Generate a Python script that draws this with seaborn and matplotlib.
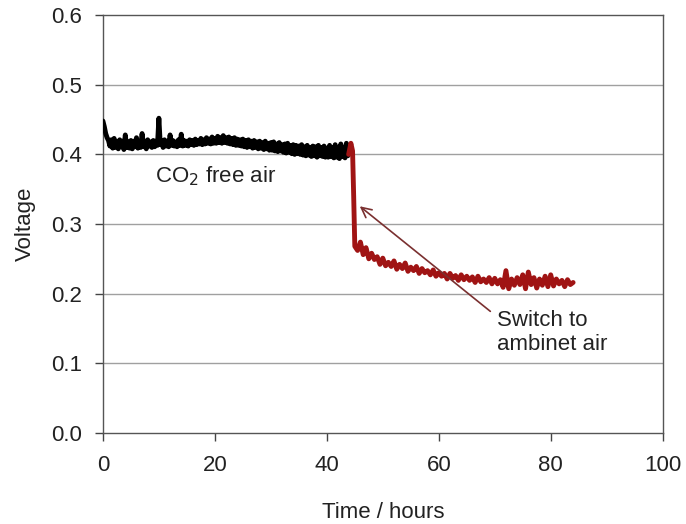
import numpy as np
import pandas as pd
import matplotlib
matplotlib.use("Agg")
import matplotlib.pyplot as plt
import seaborn as sns

# CO2-free air segment (black), sampled every 0.25 h from t = 0 to 44 h
v_free = [
    0.448, 0.440, 0.430, 0.424, 0.420, 0.412, 0.421, 0.409, 0.423, 0.410,
    0.418, 0.408, 0.421, 0.411, 0.419, 0.407, 0.428, 0.410, 0.418, 0.409,
    0.420, 0.408, 0.419, 0.411, 0.424, 0.409, 0.417, 0.410, 0.430, 0.411,
    0.419, 0.408, 0.421, 0.412, 0.418, 0.410, 0.420, 0.411, 0.419, 0.413,
    0.452, 0.414, 0.420, 0.410, 0.421, 0.412, 0.419, 0.411, 0.428, 0.413,
    0.420, 0.412, 0.418, 0.411, 0.421, 0.413, 0.429, 0.412, 0.420, 0.413,
    0.419, 0.412, 0.421, 0.414, 0.420, 0.413, 0.422, 0.414, 0.420, 0.415,
    0.423, 0.414, 0.421, 0.415, 0.424, 0.416, 0.422, 0.415, 0.425, 0.416,
    0.423, 0.416, 0.426, 0.417, 0.424, 0.416, 0.427, 0.417, 0.424, 0.416,
    0.425, 0.415, 0.423, 0.414, 0.424, 0.413, 0.422, 0.413, 0.421, 0.412,
    0.422, 0.411, 0.420, 0.410, 0.421, 0.411, 0.419, 0.409, 0.420, 0.410,
    0.418, 0.408, 0.419, 0.409, 0.417, 0.407, 0.419, 0.408, 0.416, 0.406,
    0.417, 0.406, 0.418, 0.405, 0.415, 0.404, 0.417, 0.405, 0.414, 0.403,
    0.415, 0.402, 0.416, 0.403, 0.413, 0.401, 0.414, 0.400, 0.413, 0.401,
    0.412, 0.400, 0.414, 0.399, 0.411, 0.398, 0.413, 0.399, 0.410, 0.397,
    0.412, 0.398, 0.411, 0.396, 0.413, 0.398, 0.410, 0.397, 0.412, 0.396,
    0.409, 0.396, 0.413, 0.397, 0.410, 0.395, 0.414, 0.396, 0.409, 0.394,
    0.415, 0.397, 0.410, 0.395, 0.416, 0.398, 0.402,
]
t_free = np.arange(len(v_free)) * 0.25

# ambient air segment (red)
t_switch = [43.9, 44.3, 44.6, 44.8, 45.0]
v_switch = [0.400, 0.416, 0.405, 0.340, 0.268]
v_amb = [
    0.262, 0.274, 0.256, 0.266, 0.250, 0.258, 0.249, 0.253, 0.242,
    0.251, 0.240, 0.245, 0.239, 0.247, 0.235, 0.242, 0.236, 0.244, 0.232,
    0.238, 0.233, 0.239, 0.229, 0.236, 0.230, 0.233, 0.227, 0.234, 0.225,
    0.230, 0.225, 0.229, 0.221, 0.229, 0.222, 0.226, 0.219, 0.227, 0.220,
    0.225, 0.219, 0.224, 0.216, 0.225, 0.217, 0.221, 0.216, 0.223, 0.214,
    0.222, 0.214, 0.220, 0.209, 0.233, 0.207, 0.221, 0.212, 0.223, 0.213,
    0.227, 0.207, 0.231, 0.213, 0.223, 0.208, 0.221, 0.212, 0.225, 0.210,
    0.227, 0.211, 0.221, 0.214, 0.219, 0.210, 0.220, 0.213, 0.216,
]
t_amb = list(t_switch) + list(45.5 + np.arange(len(v_amb)) * 0.5)
v_amb_all = v_switch + v_amb

x_ticks = [0, 20, 40, 60, 80, 100]
y_ticks = [0.0, 0.1, 0.2, 0.3, 0.4, 0.5, 0.6]

sns.set_style("white")
plt.rcParams['font.family'] = ['Liberation Sans', 'DejaVu Sans']

fig = plt.figure(figsize=(6.86, 5.24), dpi=100)
ax = fig.add_axes([0.150, 0.174, 0.816, 0.797])

for yv in y_ticks[1:-1]:
    ax.axhline(yv, color="#a0a0a0", lw=1.0, zorder=0)

df_free = pd.DataFrame({"t": t_free, "v": v_free})
df_amb = pd.DataFrame({"t": t_amb, "v": v_amb_all})
sns.lineplot(data=df_free, x="t", y="v", ax=ax, color="black", lw=3.5, zorder=3)
sns.lineplot(data=df_amb, x="t", y="v", ax=ax, color="#a01414", lw=3.5, zorder=3)

ax.set_xlim(0, 100)
ax.set_ylim(0, 0.6)
ax.set_xticks(x_ticks)
ax.set_xticklabels([str(x) for x in x_ticks])
ax.set_yticks(y_ticks)
ax.set_yticklabels([f"{y:.1f}" for y in y_ticks])
ax.tick_params(axis="both", direction="out", length=6, width=1, colors="#444444",
               labelcolor="#222222", labelsize=16, bottom=True, left=True)
ax.tick_params(axis="x", pad=10)
ax.tick_params(axis="y", pad=9)
for s in ax.spines.values():
    s.set_color("#555555")
    s.set_linewidth(1.0)

ax.set_xlabel("Time / hours", fontsize=16, color="#222222", labelpad=19)
ax.set_ylabel("Voltage", fontsize=16, color="#222222", labelpad=11)

ax.text(9.3, 0.368, "CO$_2$ free air", fontsize=16, color="#222222", va="center", ha="left")
ax.annotate("", xy=(45.5, 0.328), xytext=(69.6, 0.172),
            arrowprops=dict(arrowstyle="->", color="#7a3030", lw=1.2, mutation_scale=18))
ax.text(70.4, 0.144, "Switch to\nambinet air", fontsize=16, color="#222222",
        va="center", ha="left", linespacing=1.2)

fig.savefig("out.png", dpi=100)
